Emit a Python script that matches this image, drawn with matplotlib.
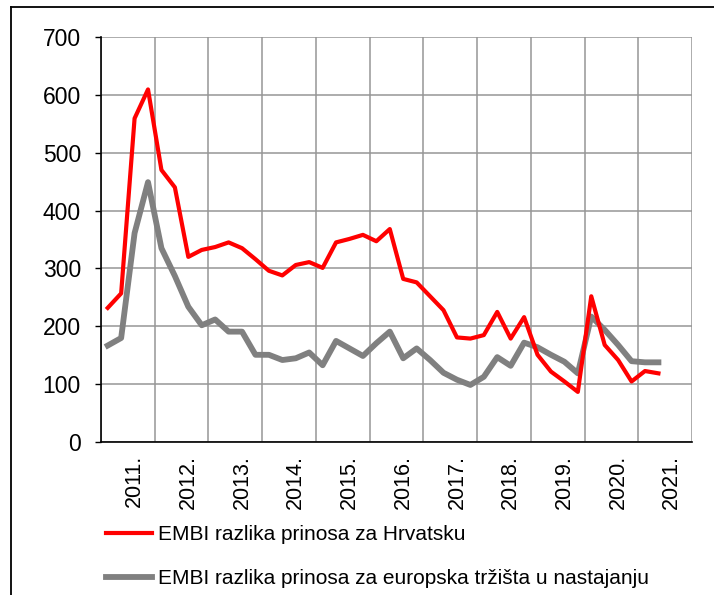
import matplotlib
matplotlib.use("Agg")
import matplotlib.pyplot as plt
from matplotlib.lines import Line2D
import numpy as np

plt.rcParams['font.family'] = ['Liberation Sans', 'DejaVu Sans']

# Quarterly categories on the axis (2010 Q3 .. 2021 Q2)
axis_quarters = ["2010 Q3", "2010 Q4"] + [f"{y} Q{q}" for y in range(2011, 2021) for q in (1, 2, 3, 4)] + ["2021 Q1", "2021 Q2"]

# EMBI spread for Croatia (basis points), quarterly from 2010 Q3
croatia = [232, 257, 559, 609, 470, 440, 320, 332, 337, 345,
           335, 316, 296, 288, 306, 311, 301, 345, 351, 358,
           347, 368, 282, 276, 252, 228, 181, 179, 185, 225,
           179, 216, 151, 122, 105, 87, 252, 168, 142, 105,
           123, 119]
# EMBI spread for European emerging markets
emerging_europe = [167, 180, 361, 449, 335, 287, 234, 202, 212, 191,
                   191, 151, 151, 142, 145, 155, 133, 175, 162, 149,
                   171, 191, 145, 162, 142, 120, 108, 99, 113, 147,
                   132, 172, 164, 151, 139, 119, 217, 194, 168, 140,
                   138, 138]

year_labels = ["2011.", "2012.", "2013.", "2014.", "2015.", "2016.",
               "2017.", "2018.", "2019.", "2020.", "2021."]
series_names = ["EMBI razlika prinosa za Hrvatsku",
                "EMBI razlika prinosa za europska tržišta u nastajanju"]

W, H = 714, 595
fig = plt.figure(figsize=(W / 100, H / 100), dpi=100)
ax = fig.add_axes([101 / W, (H - 442.3) / H, (692 - 101) / W, (442.3 - 36.7) / H])

n_slots = len(axis_quarters)
x = np.arange(len(croatia))
l1, = ax.plot(x, croatia, color="#FF0000", lw=3.0, solid_joinstyle="round", zorder=4)
l2, = ax.plot(np.arange(len(emerging_europe)), emerging_europe, color="#808080", lw=4.2,
              solid_joinstyle="round", zorder=3)

ax.set_xlim(-0.5, n_slots - 0.5)
ax.set_ylim(0, 700)
ax.set_yticks(np.arange(0, 701, 100))
ax.tick_params(axis='y', direction='out', length=4.5, width=1, color='black',
               labelsize=16.5, pad=10)

label_pos = [axis_quarters.index(f"{lab[:-1]} Q1") for lab in year_labels]
ax.set_xticks(label_pos)
ax.set_xticklabels(year_labels, rotation=90, fontsize=15.5, ha='center', va='top')
ax.tick_params(axis='x', length=0, pad=9)
ax.set_xticks(np.arange(-0.5, n_slots, 4), minor=True)
ax.tick_params(axis='x', which='minor', length=0)

ax.grid(False)
ax.yaxis.grid(True, color="#969696", lw=1.1)
ax.xaxis.grid(True, which='minor', color="#969696", lw=1.1)
ax.set_axisbelow(True)

for s in ("top", "right"):
    ax.spines[s].set_visible(False)
ax.spines["left"].set_linewidth(1.2)
ax.spines["bottom"].set_linewidth(1.2)
ax.spines["left"].set_color("black")
ax.spines["bottom"].set_color("black")

# outer frame (partially visible)
fig.add_artist(Line2D([11.5 / W, 11.5 / W], [0, (H - 7.3) / H], color='black', lw=1.3))
fig.add_artist(Line2D([11.5 / W, 1.0], [(H - 7.3) / H, (H - 7.3) / H], color='black', lw=1.3))

fs = 15
fig.legend([l1, l2], series_names, loc='upper left',
           bbox_to_anchor=(106 / W, (H - 525) / H), frameon=False, fontsize=fs,
           handlelength=2.2, handletextpad=0.3, labelspacing=1.2, borderaxespad=0,
           borderpad=0)

fig.savefig("out.png", dpi=100)
